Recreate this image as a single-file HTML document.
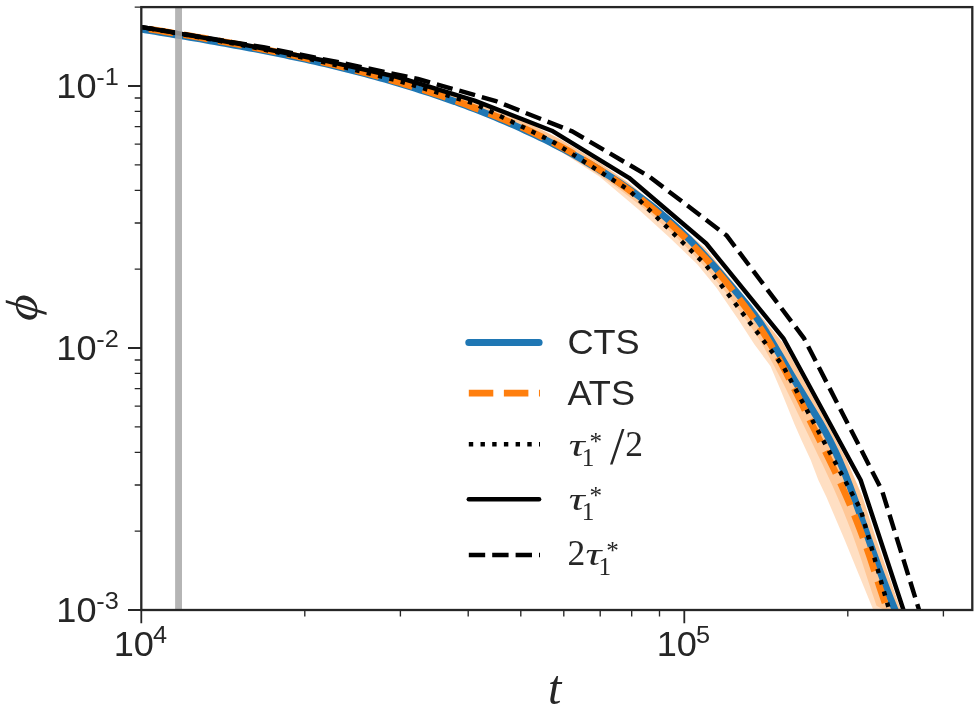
<!DOCTYPE html>
<html lang="en"><head><meta charset="utf-8"><title>phi vs t</title>
<style>html,body{margin:0;padding:0;background:#fff}svg{display:block}text{fill:#262626}.s{font-family:"Liberation Sans",sans-serif}.r{font-family:"Liberation Serif",serif}.i{font-family:"Liberation Serif",serif;font-style:italic}</style></head><body>
<svg width="980" height="711" viewBox="0 0 980 711">
<rect width="980" height="711" fill="#fff"/>
<defs><clipPath id="ax"><rect x="141.3" y="7.1" width="831.0" height="602.9"/></clipPath></defs>
<g clip-path="url(#ax)" fill="none" stroke-linejoin="round">
<path d="M380.0,78.0 L430.0,94.0 L480.0,110.0 L520.0,128.0 L560.0,151.0 L600.0,177.0 L640.0,210.8 L670.0,238.0 L697.0,264.0 L716.3,287.5 L738.6,320.0 L754.5,344.5 L770.4,366.0 L779.8,388.0 L794.5,424.3 L801.4,440.0 L810.7,460.0 L818.3,480.0 L826.4,497.0 L844.5,539.6 L872.7,608.5 L878.0,621.0 L905.4,621.0 L900.2,608.5 L876.3,539.6 L862.5,496.7 L846.7,460.0 L829.7,428.0 L797.5,369.0 L783.0,343.0 L741.0,292.0 L706.0,249.0 L665.0,213.0 L629.0,183.0 L600.0,163.0 L560.0,139.0 L520.0,119.0 L480.0,103.0 L430.0,89.0 L380.0,74.0Z" fill="#ff7f0e" fill-opacity="0.25" stroke="none"/>
<path d="M399.1,85.5 L404.1,87.1 L409.1,88.6 L414.1,90.2 L419.0,91.9 L424.0,93.5 L429.0,95.2 L433.9,96.9 L438.9,98.6 L443.9,100.3 L448.9,102.1 L453.8,103.9 L458.8,105.8 L463.8,107.6 L468.7,109.5 L473.7,111.4 L478.7,113.4 L483.6,115.3 L488.6,117.4 L493.5,119.4 L498.5,121.5 L503.5,123.6 L508.4,125.8 L513.4,128.0 L518.3,130.3 L523.3,132.6 L528.2,134.9 L533.2,137.3 L538.1,139.8 L543.1,142.3 L548.0,144.9 L552.9,147.5 L557.9,150.2 L562.8,152.9 L567.8,155.7 L572.7,158.6 L577.6,161.5 L582.6,164.5 L587.5,167.6 L592.4,170.7 L597.4,173.9 L602.3,177.2 L607.2,180.6 L612.2,184.0 L617.1,187.5 L622.0,191.2 L626.9,194.9 L631.8,198.7 L636.7,202.6 L641.6,206.6 L646.5,210.6 L651.5,214.8 L656.4,219.0 L661.3,223.4 L666.2,227.8 L671.1,232.4 L676.0,237.0 L680.9,241.8 L685.8,246.6 L690.6,251.6 L695.5,256.7 L700.4,262.0 L705.3,267.5 L710.2,273.1 L715.0,278.9 L719.9,284.9 L724.8,291.1 L729.7,297.4 L734.6,304.0 L739.5,310.7 L744.4,317.4 L749.3,324.3 L754.1,331.5 L758.9,339.0 L763.8,347.1 L768.6,355.7 L773.5,364.7 L778.4,374.0 L783.3,383.6 L788.2,393.5 L793.1,403.6 L798.0,413.7 L803.0,423.9 L807.9,434.1 L812.8,444.3 L817.7,454.4 L822.6,464.6 L827.5,474.9 L832.4,485.5 L837.2,496.5 L842.1,507.9 L846.9,519.9 L851.8,532.6 L856.6,546.0 L861.5,560.3 L866.4,575.4 L871.5,590.9 L876.5,605.8 L905.4,621.0 L900.2,608.5 L876.3,539.6 L862.5,496.7 L846.7,460.0 L829.7,428.0 L797.5,369.0 L783.0,343.0 L741.0,292.0 L706.0,249.0 L665.0,213.0 L629.0,183.0 L600.0,163.0 L560.0,139.0 L520.0,119.0 L480.0,103.0 L430.0,89.0Z" fill="#ff7f0e" fill-opacity="0.25" stroke="none"/>
<path d="M120.0,25.6 L125.0,26.4 L130.0,27.2 L135.0,28.1 L140.0,28.9 L145.0,29.7 L150.0,30.5 L155.0,31.4 L160.0,32.2 L165.0,33.0 L170.0,33.9 L175.0,34.7 L180.0,35.5 L185.0,36.4 L190.0,37.2 L195.0,38.1 L200.0,38.9 L205.0,39.8 L210.0,40.7 L215.0,41.6 L220.0,42.5 L225.0,43.4 L230.0,44.3 L235.0,45.2 L240.0,46.1 L245.0,47.0 L250.0,48.0 L255.0,48.9 L260.0,49.9 L265.0,50.9 L270.0,51.9 L275.0,52.9 L280.0,53.9 L285.0,54.9 L290.0,56.0 L295.0,57.0 L300.0,58.1 L305.0,59.2 L310.0,60.3 L315.0,61.4 L320.0,62.6 L325.0,63.7 L330.0,64.9 L335.0,66.1 L340.0,67.3 L345.0,68.6 L350.0,69.8 L355.0,71.1 L360.0,72.4 L365.0,73.7 L370.0,75.0 L375.0,76.4 L380.0,77.8 L385.0,79.2 L390.0,80.6 L395.0,82.1 L400.0,83.6 L405.0,85.1 L410.0,86.6 L415.0,88.2 L420.0,89.8 L425.0,91.4 L430.0,93.0 L435.0,94.7 L440.0,96.4 L445.0,98.1 L450.0,99.9 L455.0,101.6 L460.0,103.5 L465.0,105.3 L470.0,107.2 L475.0,109.1 L480.0,111.0 L485.0,113.0 L490.0,115.0 L495.0,117.1 L500.0,119.2 L505.0,121.3 L510.0,123.4 L515.0,125.6 L520.0,127.9 L525.0,130.2 L530.0,132.5 L535.0,134.8 L540.0,137.3 L545.0,139.7 L550.0,142.2 L555.0,144.8 L560.0,147.4 L565.0,150.0 L570.0,152.7 L575.0,155.5 L580.0,158.3 L585.0,161.2 L590.0,164.1 L595.0,167.1 L600.0,170.2 L605.0,173.3 L610.0,176.4 L615.0,179.7 L620.0,183.0 L625.0,186.4 L630.0,189.8 L635.0,193.4 L640.0,197.0 L645.0,200.8 L650.0,204.6 L655.0,208.6 L660.0,212.7 L665.0,216.9 L670.0,221.3 L675.0,225.8 L680.0,230.4 L685.0,235.2 L690.0,240.1 L695.0,245.3 L700.0,250.5 L705.0,255.9 L710.0,261.5 L715.0,267.1 L720.0,272.9 L725.0,278.7 L730.0,284.6 L735.0,290.5 L740.0,296.5 L745.0,302.5 L750.0,308.8 L755.0,315.4 L760.0,322.5 L765.0,330.1 L770.0,338.3 L775.0,346.7 L780.0,355.3 L785.0,363.8 L790.0,372.4 L795.0,380.9 L800.0,389.3 L805.0,397.6 L810.0,405.8 L815.0,414.0 L820.0,422.4 L825.0,431.2 L830.0,440.6 L835.0,450.7 L840.0,461.8 L845.0,473.7 L850.0,486.5 L855.0,500.1 L860.0,514.2 L865.0,528.7 L870.0,543.1 L875.0,557.2 L880.0,571.1 L885.0,584.5 L890.0,597.4 L895.0,609.7 L900.0,621.4" stroke="#1f77b4" stroke-width="7.0" stroke-linecap="round"/>
<path d="M120.0,24.4 L125.0,25.2 L130.0,26.0 L135.0,26.8 L140.0,27.6 L145.0,28.4 L150.0,29.2 L155.0,30.0 L160.0,30.8 L165.0,31.6 L170.0,32.5 L175.0,33.3 L180.0,34.1 L185.0,35.0 L190.0,35.8 L195.0,36.7 L200.0,37.5 L205.0,38.4 L210.0,39.3 L215.0,40.2 L220.0,41.1 L225.0,42.0 L230.0,42.9 L235.0,43.8 L240.0,44.7 L245.0,45.7 L250.0,46.6 L255.0,47.6 L260.0,48.6 L265.0,49.6 L270.0,50.6 L275.0,51.6 L280.0,52.7 L285.0,53.7 L290.0,54.8 L295.0,55.8 L300.0,56.9 L305.0,58.0 L310.0,59.2 L315.0,60.3 L320.0,61.5 L325.0,62.7 L330.0,63.8 L335.0,65.1 L340.0,66.3 L345.0,67.5 L350.0,68.8 L355.0,70.1 L360.0,71.4 L365.0,72.7 L370.0,74.1 L375.0,75.5 L380.0,76.9 L385.0,78.3 L390.0,79.7 L395.0,81.2 L400.0,82.6 L405.0,84.2 L410.0,85.7 L415.0,87.2 L420.0,88.8 L425.0,90.4 L430.0,92.1 L435.0,93.7 L440.0,95.4 L445.0,97.1 L450.0,98.9 L455.0,100.6 L460.0,102.4 L465.0,104.2 L470.0,106.1 L475.0,108.0 L480.0,109.9 L485.0,111.8 L490.0,113.8 L495.0,115.8 L500.0,117.9 L505.0,120.0 L510.0,122.1 L515.0,124.3 L520.0,126.5 L525.0,128.8 L530.0,131.1 L535.0,133.5 L540.0,135.9 L545.0,138.4 L550.0,141.0 L555.0,143.6 L560.0,146.2 L565.0,148.9 L570.0,151.7 L575.0,154.6 L580.0,157.5 L585.0,160.5 L590.0,163.5 L595.0,166.7 L600.0,169.9 L605.0,173.2 L610.0,176.5 L615.0,180.0 L620.0,183.5 L625.0,187.1 L630.0,190.8 L635.0,194.5 L640.0,198.4 L645.0,202.4 L650.0,206.4 L655.0,210.5 L660.0,214.8 L665.0,219.1 L670.0,223.5 L675.0,228.1 L680.0,232.7 L685.0,237.5 L690.0,242.3 L695.0,247.3 L700.0,252.5 L705.0,257.7 L710.0,263.2 L715.0,268.8 L720.0,274.7 L725.0,280.7 L730.0,286.9 L735.0,293.3 L740.0,299.9 L745.0,306.6 L750.0,313.3 L755.0,320.3 L760.0,327.5 L765.0,335.2 L770.0,343.4 L775.0,352.1 L780.0,361.1 L785.0,370.5 L790.0,380.2 L795.0,390.1 L800.0,400.1 L805.0,410.3 L810.0,420.5 L815.0,430.6 L820.0,440.7 L825.0,450.8 L830.0,461.0 L835.0,471.4 L840.0,482.0 L845.0,493.1 L850.0,504.6 L855.0,516.7 L860.0,529.5 L865.0,543.0 L870.0,557.4 L875.0,572.6 L880.0,588.1 L885.0,603.0" stroke="#ff7f0e" stroke-width="6.7" stroke-dasharray="24.5 10.58" stroke-dashoffset="-29.4"/>
<path d="M88.6,18.4 L165.8,31.2 L243.0,45.2 L320.2,61.2 L397.4,80.5 L474.6,103.7 L551.8,141.1 L629.0,190.1 L706.2,265.4 L783.4,366.7 L860.6,509.4 L937.8,781.0" stroke="#000" stroke-width="4.45" stroke-dasharray="4.42 7.28" stroke-dashoffset="-2.7"/>
<path d="M88.6,18.6 L165.8,31.1 L243.0,44.5 L320.2,59.7 L397.4,77.0 L474.6,100.6 L551.8,130.7 L629.0,177.8 L706.2,243.5 L783.4,338.3 L860.6,480.0 L937.8,714.0" stroke="#000" stroke-width="4.45" stroke-linecap="round"/>
<path d="M109.1,21.9 L186.3,34.5 L263.5,47.3 L340.7,62.7 L417.9,79.0 L495.1,100.8 L572.3,131.4 L649.5,176.7 L726.7,235.6 L803.9,338.1 L882.0,490.5 L918.2,607.2 L925.0,629.1" stroke="#000" stroke-width="4.45" stroke-dasharray="16.38 7.02" stroke-dashoffset="-6.1"/>
<rect x="175.1" y="7.1" width="6.9" height="602.9" fill="#a8a8a8" fill-opacity="0.85"/>
</g>
<g stroke="#262626" fill="none">
<path d="M141.3,610.0 v13.3 M684.3,610.0 v13.3 M141.3,86.0 h-13.3 M141.3,348.0 h-13.3 M141.3,610.0 h-13.3" stroke-width="1.8"/>
<path d="M304.8,610.0 v6.6 M400.4,610.0 v6.6 M468.2,610.0 v6.6 M520.8,610.0 v6.6 M563.8,610.0 v6.6 M600.2,610.0 v6.6 M631.7,610.0 v6.6 M659.5,610.0 v6.6 M847.8,610.0 v6.6 M943.4,610.0 v6.6 M141.3,7.1 h-6.6 M141.3,269.1 h-6.6 M141.3,223.0 h-6.6 M141.3,190.3 h-6.6 M141.3,164.9 h-6.6 M141.3,144.1 h-6.6 M141.3,126.6 h-6.6 M141.3,111.4 h-6.6 M141.3,98.0 h-6.6 M141.3,531.1 h-6.6 M141.3,485.0 h-6.6 M141.3,452.3 h-6.6 M141.3,426.9 h-6.6 M141.3,406.1 h-6.6 M141.3,388.6 h-6.6 M141.3,373.4 h-6.6 M141.3,360.0 h-6.6" stroke-width="1.35"/>
<rect x="141.3" y="7.1" width="831.0" height="602.9" stroke-width="2.3"/>
</g>
<text class="s" transform="translate(56.3,98.0) scale(1.045,1)" font-size="34.6">10</text>
<text class="s" transform="translate(96.3,85.3) scale(1.045,1)" font-size="24.2">-1</text>
<text class="s" transform="translate(56.3,360.0) scale(1.045,1)" font-size="34.6">10</text>
<text class="s" transform="translate(96.3,347.3) scale(1.045,1)" font-size="24.2">-2</text>
<text class="s" transform="translate(56.3,622.0) scale(1.045,1)" font-size="34.6">10</text>
<text class="s" transform="translate(96.3,609.3) scale(1.045,1)" font-size="24.2">-3</text>
<text class="s" transform="translate(113.7,655.9) scale(1.045,1)" font-size="34.6">10</text>
<text class="s" transform="translate(153.1,643.3) scale(1.045,1)" font-size="24.2">4</text>
<text class="s" transform="translate(656.7,655.9) scale(1.045,1)" font-size="34.6">10</text>
<text class="s" transform="translate(696.1,643.3) scale(1.045,1)" font-size="24.2">5</text>
<text class="i" x="554.6" y="703.6" font-size="48" text-anchor="middle">t</text>
<text class="i" transform="translate(36.6,308.8) rotate(-90) skewX(-6) scale(1.12,1)" font-size="45" text-anchor="middle">ϕ</text>
<g fill="none">
<path d="M468.8,342.4 H539.1" stroke="#1f77b4" stroke-width="7.0" stroke-linecap="round"/>
<path d="M468.8,393.2 H540.0" stroke="#ff7f0e" stroke-width="6.7" stroke-dasharray="24.5 10.58"/>
<path d="M468.8,444.3 H540.0" stroke="#000" stroke-width="4.45" stroke-dasharray="4.42 7.28"/>
<path d="M468.8,499.2 H539.1" stroke="#000" stroke-width="4.45" stroke-linecap="round"/>
<path d="M468.8,555 H540.0" stroke="#000" stroke-width="4.45" stroke-dasharray="16.38 7.02"/>
</g>
<text class="s" transform="translate(567.4,354.0) scale(1.045,1)" font-size="34.6">CTS</text>
<text class="s" transform="translate(567.4,404.8) scale(1.045,1)" font-size="34.6">ATS</text>
<text class="i" x="568.7" y="456.4" font-size="31.5" transform="translate(568.7,0) scale(1.42,1) translate(-568.7,0)">τ</text>
<text class="r" x="581.8" y="465.9" font-size="25.2">1</text>
<text class="r" x="589.4" y="450.1" font-size="25.2">*</text>
<text class="r" x="609.9" y="464.4" font-size="52">/</text>
<text class="r" x="625.2" y="456.4" font-size="35.5">2</text>
<text class="i" x="568.7" y="510.4" font-size="31.5" transform="translate(568.7,0) scale(1.42,1) translate(-568.7,0)">τ</text>
<text class="r" x="581.8" y="519.9" font-size="25.2">1</text>
<text class="r" x="589.4" y="504.1" font-size="25.2">*</text>
<text class="r" x="567.5" y="565.4" font-size="35.5">2</text>
<text class="i" x="585.5" y="565.4" font-size="31.5" transform="translate(585.5,0) scale(1.42,1) translate(-585.5,0)">τ</text>
<text class="r" x="598.6" y="574.9" font-size="25.2">1</text>
<text class="r" x="606.2" y="559.1" font-size="25.2">*</text>
</svg></body></html>
